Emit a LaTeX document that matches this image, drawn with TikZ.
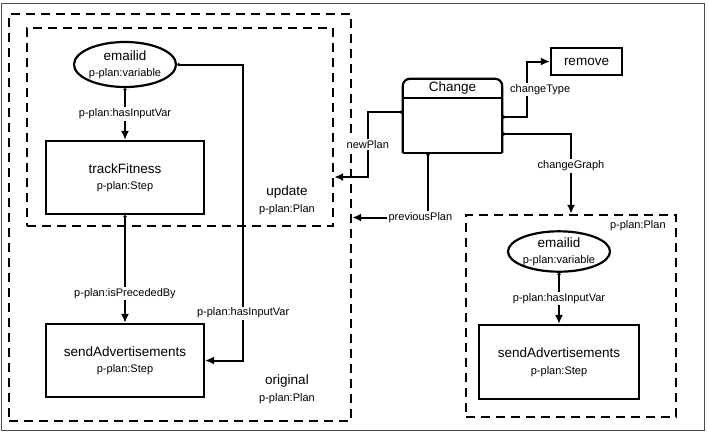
\documentclass[tikz,border=0pt]{standalone}
\usepackage{fontspec}
\setmainfont{Liberation Sans}
\usetikzlibrary{arrows.meta,shapes.geometric}

\newcommand{\bigtxt}{\fontsize{13.5}{16.5}\selectfont}
\newcommand{\smalltxt}{\fontsize{11}{13}\selectfont}

\begin{document}
\begin{tikzpicture}[x=1pt, y=-1pt,
    plan/.style={draw, line width=2.4pt, dash pattern=on 9pt off 6pt, inner sep=0pt},
    stepbox/.style={draw, line width=2.2pt, inner sep=0pt, align=center, font=\bigtxt},
    var/.style={draw, ellipse, line width=2.2pt, inner sep=0pt, align=center, font=\bigtxt},
    conn/.style={line width=2pt, arrows={Circle[length=3pt]-Latex[length=9pt,width=8pt]}},
    lbl/.style={fill=white, inner sep=1.5pt, font=\smalltxt},
    planlbl/.style={align=center, font=\bigtxt}
]
                \useasboundingbox (0,0) rectangle (708,434);
                \draw[gray!60!black, line width=1pt] (1.5,3) rectangle (704.5,430);

                \node[plan, minimum width=342, minimum height=407] (orig) at (180,217.5) {};
                \node[plan, minimum width=306, minimum height=198] (upd) at (180,127) {};
                \node[var, minimum width=98, minimum height=45] (var1) at (125,64.5)
                    {emailid\\{\smalltxt p-plan:variable}};
                \node[stepbox, minimum width=158, minimum height=73] (track) at (125,177.5)
                    {trackFitness\\{\smalltxt p-plan:Step}};
                \node[stepbox, minimum width=158, minimum height=73] (send1) at (125,360.5)
                    {sendAdvertisements\\{\smalltxt p-plan:Step}};
                \node[planlbl] (updlbl) at (287,200) {update\\{\smalltxt p-plan:Plan}};
                \node[planlbl] (origlbl) at (287,389) {original\\{\smalltxt p-plan:Plan}};

                \node[minimum width=99, minimum height=19, inner sep=0pt, font=\bigtxt] (changehead) at (452.5,88.5) {Change};
                \node[minimum width=99, minimum height=55, inner sep=0pt] (change) at (452.5,125.5) {};
                \draw[line width=2.2pt, rounded corners=7pt] (change.south west) |- (changehead.north) -| (change.south east);
                \draw[line width=2.2pt] (change.south west) -- (change.south east);
                \draw[line width=2.2pt] (changehead.south west) -- (changehead.south east);
                \node[stepbox, minimum width=71, minimum height=27] (remove) at (586.5,61.5) {remove};

                \node[plan, minimum width=210, minimum height=202] (rplan) at (571,316) {};
                \node[font=\smalltxt, anchor=north east] (rplanlbl) at ([xshift=-8pt,yshift=-3pt]rplan.north east) {p-plan:Plan};
                \node[var, minimum width=99, minimum height=39] (var2) at (559,251.5)
                    {emailid\\{\smalltxt p-plan:variable}};
                \node[stepbox, minimum width=160, minimum height=74] (send2) at (559,362)
                    {sendAdvertisements\\{\smalltxt p-plan:Step}};

                \draw[conn] (var1) -- node[lbl] {p-plan:hasInputVar} (track);
                \draw[conn] (track) -- node[lbl, pos=0.73] {p-plan:isPrecededBy} (send1);
                \draw[conn] (var1.east) -- ++(66,0) |- node[lbl, pos=0.42] {p-plan:hasInputVar} (send1.east);
                \draw[conn] (var2) -- node[lbl] {p-plan:hasInputVar} (send2);

                \draw[conn] ([yshift=8.5pt]change.east) -- ++(25,0) |- node[lbl, pos=0.25, xshift=13pt] {changeType} (remove.west);
                \draw[conn] ([yshift=-8.5pt]change.east) -| node[lbl, pos=0.7] {changeGraph} (rplan.north);
                \draw[conn] ([yshift=13.5pt]change.west) -- ++(-35,0) |- node[lbl, pos=0.25] {newPlan} ([yshift=-50pt]upd.east);
                \draw[conn] ([xshift=-24.5pt]change.south) |- node[lbl, pos=0.55] {previousPlan} (orig.east);
            \end{tikzpicture}
\end{document}
